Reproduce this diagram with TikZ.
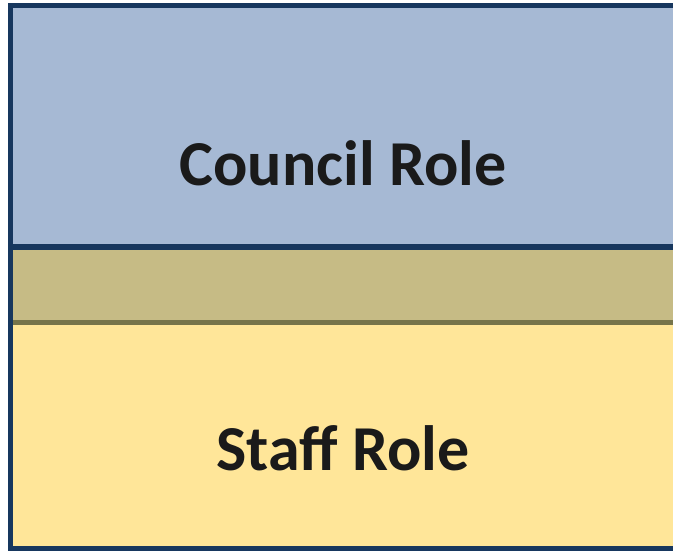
\documentclass[tikz,border=0pt]{standalone}
\usepackage{fontspec}
\setmainfont{Carlito}
\usetikzlibrary{positioning}

\definecolor{councilblue}{HTML}{A6B9D4}
\definecolor{sharedtan}{HTML}{C6BB85}
\definecolor{staffyellow}{HTML}{FFE699}
\definecolor{frameblue}{HTML}{17375E}
\definecolor{bandolive}{HTML}{76744A}
\definecolor{labelgrey}{HTML}{1A1A1A}

\begin{document}
\begin{tikzpicture}[x=1pt,y=-1pt,
                    role/.style={font=\bfseries\fontsize{64}{64}\selectfont,
                                 text=labelgrey,anchor=base,inner sep=0pt},
                    band/.style={line width=5.5pt}]

  \useasboundingbox (0,0) rectangle (673,550);
  \clip (0,0) rectangle (673,550);

  % the three areas
  \fill[councilblue] (10.5,5.5) rectangle (700,247);
  \fill[sharedtan]   (10.5,247) rectangle (700,322.5);
  \fill[staffyellow] (10.5,322.5) rectangle (700,549);

  % dividing lines and frame
  \draw[band,bandolive] (10.5,322.5) -- (700,322.5);
  \draw[band,frameblue] (10.5,247) -- (700,247);
  \draw[band,frameblue,line join=miter]
       (700,5.5) -- (10.5,5.5) -- (10.5,549) -- (700,549);

  \node[role] (council) at (343,185) {Council Role};
  \node[role] (staff)   at (343,470) {Staff Role};

\end{tikzpicture}
\end{document}
